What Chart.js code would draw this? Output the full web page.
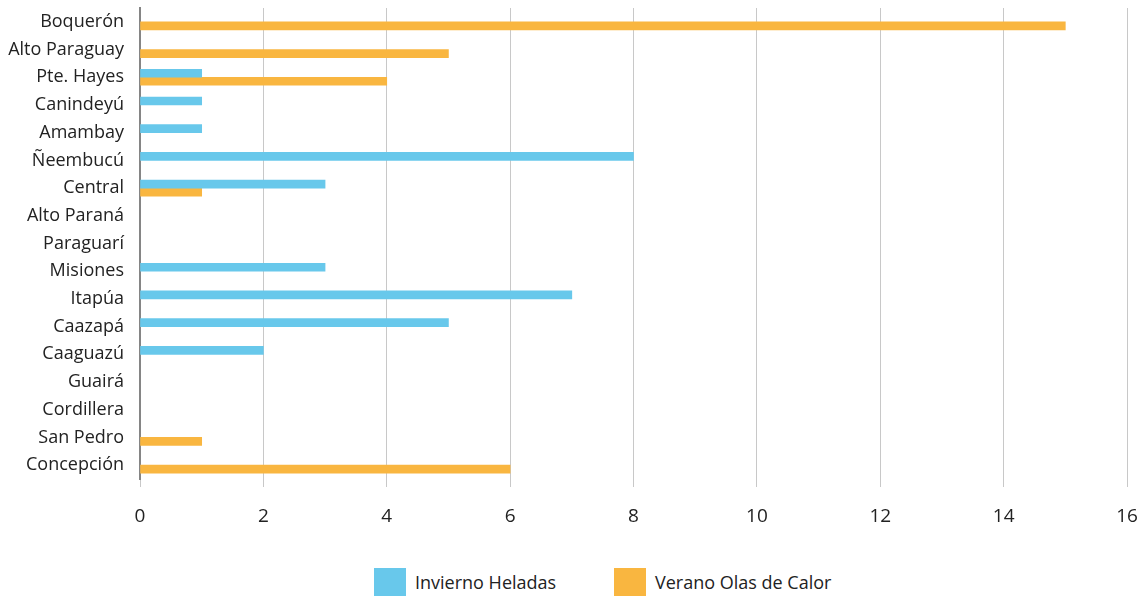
<!DOCTYPE html>
<html>
<head>
<meta charset="utf-8">
<script src="https://cdn.jsdelivr.net/npm/chart.js@4"></script>
<style>
  html, body { margin: 0; padding: 0; background: #fff; overflow: hidden; }
  #page { position: relative; width: 1140px; height: 596px; overflow: hidden; }
  #wrap { position: absolute; left: 0; top: 0; width: 1140px; height: 540px; }
  .leg { position: absolute; top: 568px; height: 28px; display: flex; align-items: center;
         font-family: 'Open Sans', sans-serif; font-size: 18px; color: #222; white-space: nowrap; }
  .leg span.box { display: inline-block; width: 32px; height: 28px; margin-right: 9px; }
</style>
</head>
<body>
<div id="page">
  <div id="wrap"><canvas id="chart"></canvas></div>
  <div id="leyenda"></div>
</div>
<script>
// departamentos, de arriba hacia abajo
var departamentos = ['Boquerón', 'Alto Paraguay', 'Pte. Hayes', 'Canindeyú', 'Amambay', 'Ñeembucú',
  'Central', 'Alto Paraná', 'Paraguarí', 'Misiones', 'Itapúa', 'Caazapá', 'Caaguazú', 'Guairá',
  'Cordillera', 'San Pedro', 'Concepción'];
var inviernoHeladas = [0, 0, 1, 1, 1, 8, 3, 0, 0, 3, 7, 5, 2, 0, 0, 0, 0];
var veranoOlasCalor = [15, 5, 4, 0, 0, 0, 1, 0, 0, 0, 0, 0, 0, 0, 0, 1, 6];
var xTicks = [0, 2, 4, 6, 8, 10, 12, 14, 16];

var FONT = "'Open Sans', sans-serif";
var legendLeft = [374, 614];

// sin barra para los ceros
function sinCeros(arr) {
  return arr.map(function (v) { return v === 0 ? null : v; });
}

var ctx = document.getElementById('chart').getContext('2d');
var chart = new Chart(ctx, {
  type: 'bar',
  data: {
    labels: departamentos,
    datasets: [
      { label: 'Invierno Heladas', data: sinCeros(inviernoHeladas), backgroundColor: '#68c8eb', barThickness: 8 },
      { label: 'Verano Olas de Calor', data: sinCeros(veranoOlasCalor), backgroundColor: '#f9b640', barThickness: 8 }
    ]
  },
  options: {
    indexAxis: 'y',
    responsive: true,
    maintainAspectRatio: false,
    animation: false,
    layout: { padding: { top: 8, right: 13, left: 2, bottom: 0 } },
    scales: {
      x: {
        min: 0,
        max: 16,
        afterBuildTicks: function (axis) {
          axis.ticks = xTicks.map(function (v) { return { value: v }; });
        },
        afterFit: function (axis) {
          axis.height = 61;
          axis.paddingLeft = 0;
          axis.paddingRight = 0;
        },
        grid: { color: '#c8c8c8', lineWidth: 1, drawTicks: true, tickLength: 8, tickColor: '#c8c8c8' },
        border: { display: false },
        ticks: { color: '#222', font: { family: FONT, size: 19 }, padding: 18 }
      },
      y: {
        afterFit: function (axis) {
          axis.width = 138;
          axis.paddingTop = 0;
          axis.paddingBottom = 0;
        },
        grid: { display: false, drawTicks: false, tickLength: 0 },
        border: { display: true, color: '#858585', width: 2 },
        ticks: { color: '#222', font: { family: FONT, size: 18 }, padding: 16, autoSkip: false }
      }
    },
    plugins: {
      tooltip: { enabled: false },
      legend: { display: false }
    }
  }
});

// leyenda en HTML debajo del gráfico
var leyenda = document.getElementById('leyenda');
chart.data.datasets.forEach(function (ds, i) {
  var item = document.createElement('div');
  item.className = 'leg';
  item.style.left = legendLeft[i] + 'px';
  var box = document.createElement('span');
  box.className = 'box';
  box.style.background = ds.backgroundColor;
  item.appendChild(box);
  item.appendChild(document.createTextNode(ds.label));
  leyenda.appendChild(item);
});
</script>
</body>
</html>
